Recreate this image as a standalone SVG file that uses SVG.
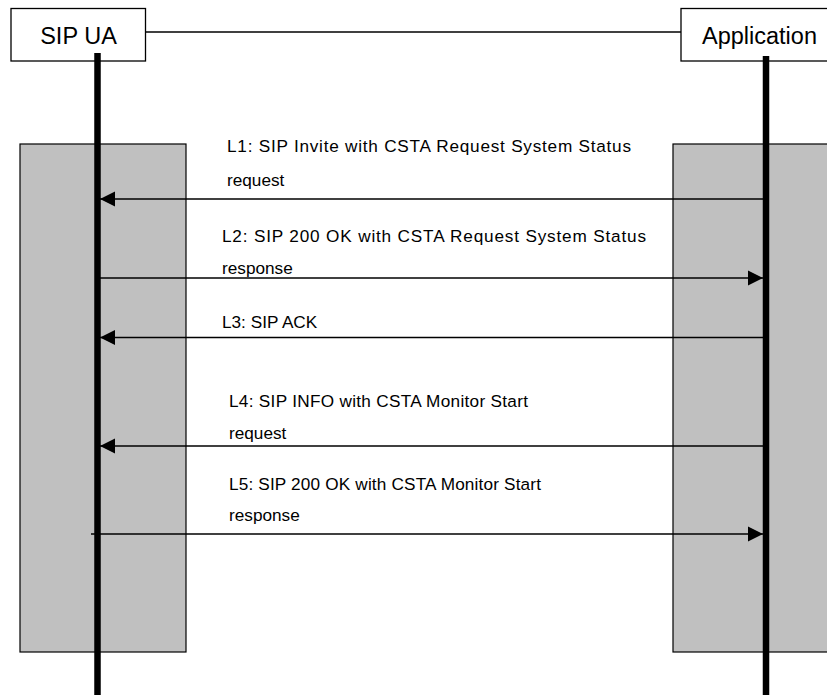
<svg xmlns="http://www.w3.org/2000/svg" width="827" height="695" viewBox="0 0 827 695">
<style>
.bg{fill:#ffffff}
.act{fill:#c0c0c0;stroke:#000;stroke-width:1.2}
.box{fill:#fff;stroke:#000;stroke-width:1.3}
.life{stroke:#000;stroke-width:6.5}
.msg{stroke:#000;stroke-width:1.6;fill:none}
.t{font-family:"Liberation Sans",Arial,sans-serif;font-size:17.2px;fill:#000}
.h{font-family:"Liberation Sans",Arial,sans-serif;font-size:23.5px;fill:#000}
</style>
<defs>
<marker id="ah" markerUnits="userSpaceOnUse" markerWidth="16" markerHeight="16" viewBox="0 0 16 16" refX="15" refY="8" orient="auto">
<path d="M0,0.5 L15,8 L0,15.5 Z" fill="#000"/>
</marker>
</defs>
<rect class="bg" x="0" y="0" width="827" height="695"/>
<g id="activation-left"><rect class="act" x="20" y="144" width="166" height="508"/></g>
<g id="activation-right"><rect class="act" x="673" y="144" width="170" height="508"/></g>
<g id="connectors">
<line class="msg" x1="145" y1="32" x2="681" y2="32"/>
<line class="msg" x1="766" y1="199" x2="100" y2="199" marker-end="url(#ah)"/>
<line class="msg" x1="97" y1="278" x2="763" y2="278" marker-end="url(#ah)"/>
<line class="msg" x1="766" y1="337.5" x2="100" y2="337.5" marker-end="url(#ah)"/>
<line class="msg" x1="766" y1="446" x2="100" y2="446" marker-end="url(#ah)"/>
<line class="msg" x1="91" y1="534" x2="763" y2="534" marker-end="url(#ah)"/>
</g>
<g id="sip-ua">
<rect class="box" x="11" y="8.5" width="134.5" height="52.5"/>
<text class="h" x="78.5" y="43.5" text-anchor="middle">SIP UA</text>
<line class="life" x1="97.5" y1="53" x2="97.5" y2="695"/>
</g>
<g id="application">
<rect class="box" x="681" y="8.5" width="160" height="52.5"/>
<text class="h" x="702" y="43.5">Application</text>
<line class="life" x1="766" y1="56" x2="766" y2="695"/>
</g>
<g id="labels">
<text class="t" x="227" y="152" textLength="404" lengthAdjust="spacing">L1: SIP Invite with CSTA Request System Status</text>
<text class="t" x="227" y="186">request</text>
<text class="t" x="222" y="242" textLength="424" lengthAdjust="spacing">L2: SIP 200 OK with CSTA Request System Status</text>
<text class="t" x="222" y="274">response</text>
<text class="t" x="222" y="328">L3: SIP ACK</text>
<text class="t" x="229" y="407" textLength="299" lengthAdjust="spacing">L4: SIP INFO with CSTA Monitor Start</text>
<text class="t" x="229" y="439">request</text>
<text class="t" x="229" y="490" textLength="312" lengthAdjust="spacing">L5: SIP 200 OK with CSTA Monitor Start</text>
<text class="t" x="229" y="521">response</text>
</g>
</svg>
